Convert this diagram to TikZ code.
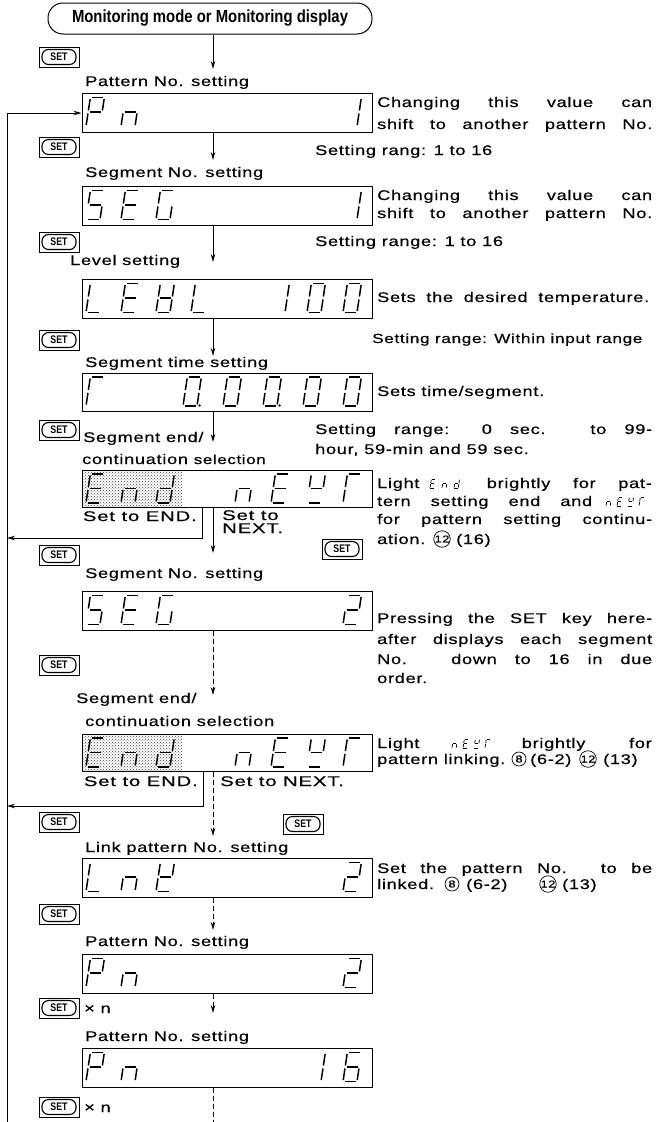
\documentclass[tikz,border=0pt]{standalone}
\usepackage{fontspec}
\setmainfont{Liberation Sans}[FakeStretch=1.3,LetterSpace=5,FakeBold=0.4]
\newfontfamily\widefont{Liberation Sans}[FakeStretch=1.45,LetterSpace=6,FakeBold=0.4]
\newfontfamily\titlefont{Liberation Sans}[FakeStretch=0.85]
\newfontfamily\keyfont{Liberation Sans}[FakeStretch=0.8]
\usetikzlibrary{arrows.meta,patterns,calc,positioning}
\newcommand\sgma{\draw[segl] (1.5,-29) -- (12.5,-29);}
\newcommand\sgmb{\draw[segl] (14,-27.5) -- (14,-16);}
\newcommand\sgmc{\draw[segl] (14,-13) -- (14,-1.5);}
\newcommand\sgmd{\draw[segl] (1.5,0) -- (12.5,0);}
\newcommand\sgme{\draw[segl] (0,-13) -- (0,-1.5);}
\newcommand\sgmf{\draw[segl] (0,-27.5) -- (0,-16);}
\newcommand\sgmg{\draw[segl] (1.5,-14.5) -- (12.5,-14.5);}
\newcommand\sgmp{\fill (16.5,-0.5) circle (1.3);}
\newcommand\sevseg[3]{\begin{scope}[shift={(#1,#2)},xslant=0.15]\foreach \s in {#3}{\csname sgm\s\endcsname}\end{scope}}
\newcommand\minseg[3]{\begin{scope}[shift={(#1,#2)},xslant=0.15,scale=0.3,segl/.style={line width=0.75pt}]\foreach \s in {#3}{\csname sgm\s\endcsname}\end{scope}}
\begin{document}
\begin{tikzpicture}[x=1pt,y=-1pt,font=\fontsize{14}{16}\selectfont,
  segl/.style={line width=1.5pt},
  disp/.style={draw,line width=1pt,minimum width=290pt,minimum height=39pt,inner sep=0pt},
  arr/.style={line width=0.9pt,-{Stealth[length=8pt,width=4.5pt]}},
  darr/.style={arr,dash pattern=on 5pt off 3pt},
  dline/.style={line width=0.9pt,dash pattern=on 5pt off 3pt},
  loopline/.style={line width=1pt},
  txt/.style={inner sep=0pt,anchor=base west},
  txtr/.style={inner sep=0pt,anchor=base east},
  wtxt/.style={txt,font=\widefont\fontsize{14}{16}\selectfont},
  wtxtr/.style={txtr,font=\widefont\fontsize{14}{16}\selectfont},
  circnum/.style={draw,circle,line width=0.7pt,inner sep=0pt,minimum size=14pt,font=\fontsize{10}{10}\selectfont},
  setkey/.style={draw,line width=0.9pt,minimum width=40pt,minimum height=20pt,inner sep=0pt,
    font=\keyfont\bfseries\fontsize{11}{11}\selectfont,
    path picture={\draw[line width=1.1pt,rounded corners=6.5pt]
      ($(path picture bounding box.south west)+(3pt,2.5pt)$) rectangle
      ($(path picture bounding box.north east)+(-3pt,-2.5pt)$);}}]
\fill[white] (0,0) rectangle (656,1122);
\useasboundingbox (0,0) rectangle (656,1122);

% ---------- top box
\node[draw,line width=1pt,rounded corners=15pt,minimum width=324pt,minimum height=31pt,inner sep=0pt,
  font=\titlefont\bfseries\fontsize{17.5}{19}\selectfont] (top) at (210,18.5) {Monitoring mode or Monitoring display};

% ---------- SET keys
\node[setkey] (k1) at (59,57) {SET};
\node[setkey] (k2) at (59,147) {SET};
\node[setkey] (k3) at (59,242) {SET};
\node[setkey] (k4) at (59,340) {SET};
\node[setkey] (k5) at (59,430) {SET};
\node[setkey] (k6) at (59,555) {SET};
\node[setkey] (k6r) at (342,549) {SET};
\node[setkey] (k7) at (59,665) {SET};
\node[setkey] (k8) at (59,822) {SET};
\node[setkey] (k8r) at (303,824) {SET};
\node[setkey] (k9) at (59,914) {SET};
\node[setkey] (k10) at (59,1008) {SET};
\node[setkey] (k11) at (59,1107) {SET};
\node[txt] (xn1) at (84,1013) {× n};
\node[txt] (xn2) at (84,1112) {× n};

% ---------- dotted areas
\fill[pattern=crosshatch dots,pattern color=black!75] (82,470) rectangle (182,507);
\fill[pattern=crosshatch dots,pattern color=black!75] (82,734) rectangle (182,771);

% ---------- displays
\node[disp] (d1) at (227,112.5) {};
\node[disp] (d2) at (227,205.5) {};
\node[disp] (d3) at (227,298.5) {};
\node[disp,minimum height=38pt] (d4) at (227,392) {};
\node[disp,minimum height=37pt] (d5) at (227,488.5) {};
\node[disp] (d6) at (227,610.5) {};
\node[disp,minimum height=37pt] (d7) at (227,752.5) {};
\node[disp] (d8) at (227,877.5) {};
\node[disp] (d9) at (227,973.5) {};
\node[disp] (d10) at (227,1067.5) {};

% ---------- glyphs
% Pn 1
\sevseg{86}{126.5}{a,b,e,f,g}\sevseg{121}{126.5}{c,e,g}\sevseg{343}{126.5}{b,c}
% SEG 1
\sevseg{86}{219.5}{a,f,g,c,d}\sevseg{121}{219.5}{a,f,g,e,d}\sevseg{156}{219.5}{a,f,e,d,c}\sevseg{343}{219.5}{b,c}
% LEVL 100
\sevseg{86}{312.5}{f,e,d}\sevseg{121}{312.5}{a,f,g,e,d}\sevseg{156}{312.5}{b,c,d,e,f,g}\sevseg{191}{312.5}{f,e,d}
\sevseg{271}{312.5}{b,c}\sevseg{307}{312.5}{a,b,c,d,e,f}\sevseg{343}{312.5}{a,b,c,d,e,f}
% r 0.00.00
\sevseg{86}{406}{a,e,f}
\sevseg{183}{406}{a,b,c,d,e,f,p}\sevseg{223}{406}{a,b,c,d,e,f}\sevseg{263}{406}{a,b,c,d,e,f,p}
\sevseg{303}{406}{a,b,c,d,e,f}\sevseg{343}{406}{a,b,c,d,e,f}
% End nExt (1)
\sevseg{86}{503}{a,d,e,f,g}\sevseg{121}{503}{c,e,g}\sevseg{156}{503}{b,c,d,e,g}
\sevseg{235}{503}{c,e,g}\sevseg{271}{503}{a,d,e,f,g}\sevseg{307}{503}{b,d,f,g}\sevseg{343}{503}{a,e,f}
% SEG 2
\sevseg{86}{624.5}{a,f,g,c,d}\sevseg{121}{624.5}{a,f,g,e,d}\sevseg{156}{624.5}{a,f,e,d,c}\sevseg{343}{624.5}{a,b,g,e,d}
% End nExt (2)
\sevseg{86}{767}{a,d,e,f,g}\sevseg{121}{767}{c,e,g}\sevseg{156}{767}{b,c,d,e,g}
\sevseg{235}{767}{c,e,g}\sevseg{271}{767}{a,d,e,f,g}\sevseg{307}{767}{b,d,f,g}\sevseg{343}{767}{a,e,f}
% LnK 2
\sevseg{86}{891.5}{f,e,d}\sevseg{121}{891.5}{c,e,g}\sevseg{156}{891.5}{b,d,e,f,g}\sevseg{343}{891.5}{a,b,g,e,d}
% Pn 2
\sevseg{86}{987.5}{a,b,e,f,g}\sevseg{121}{987.5}{c,e,g}\sevseg{343}{987.5}{a,b,g,e,d}
% Pn 16
\sevseg{86}{1081.5}{a,b,e,f,g}\sevseg{121}{1081.5}{c,e,g}\sevseg{307}{1081.5}{b,c}\sevseg{343}{1081.5}{a,c,d,e,f,g}

% ---------- left labels
\node[txt] (l1) at (85,86) {Pattern No. setting};
\node[txt] (l2) at (85,177) {Segment No. setting};
\node[txt] (l3) at (70,265) {Level setting};
\node[txt] (l4) at (85,367) {Segment time setting};
\node[txt] (l5) at (83,442) {Segment end/};
\node[txt] (l6) at (82,464) {continuation {\fontsize{13}{15}\selectfont selection}};
\node[txt] (l7) at (85,578) {Segment No. setting};
\node[txt] (l8) at (76,703) {Segment end/};
\node[txt] (l9) at (85,726) {continuation selection};
\node[txt] (l10) at (85,852) {Link pattern No. setting};
\node[txt] (l11) at (85,946) {Pattern No. setting};
\node[txt] (l12) at (85,1041) {Pattern No. setting};
\node[wtxtr] (b1) at (197,521) {Set to END.};
\node[wtxt] (b2) at (222,520) {Set to};
\node[wtxt] (b3) at (222,533) {NEXT.};
\node[wtxtr] (b4) at (198,786) {Set to END.};
\node[wtxt] (b5) at (220,786) {Set to NEXT.};

% ---------- right texts
\node[txt] (r1a) at (377,107) {\makebox[275pt][s]{Changing this value can}};
\node[txt] (r1b) at (377,129) {\makebox[275pt][s]{shift to another pattern No.}};
\node[txt] (r1c) at (315,155) {Setting rang: 1 to 16};
\node[txt] (r2a) at (377,200) {\makebox[275pt][s]{Changing this value can}};
\node[txt] (r2b) at (377,218) {\makebox[275pt][s]{shift to another pattern No.}};
\node[txt] (r2c) at (315,246) {Setting range: 1 to 16};
\node[txt] (r3a) at (377,302) {\makebox[272pt][s]{Sets the desired temperature.}};
\node[txt,font=\fontsize{13.2}{15}\selectfont] (r3b) at (372,343) {Setting range: Within input range};
\node[txt] (r4a) at (377,396) {Sets time/segment.};
\node[txt] (r4b) at (315,434) {\makebox[337pt][s]{Setting range: 0 sec. to 99-}};
\node[txt] (r4c) at (315,454) {hour, 59-min and 59 sec.};
\node[txt] (r5a) at (377,488) {Light};
\minseg{430}{488}{a,d,e,f,g}\minseg{442}{488}{c,e,g}\minseg{454}{488}{b,c,d,e,g}
\node[txtr] (r5b) at (652,488) {\makebox[165pt][s]{brightly for pat-}};
\node[txt] (r5c) at (377,506) {\makebox[215pt][s]{tern setting end and}};
\minseg{606}{506}{c,e,g}\minseg{617}{506}{a,d,e,f,g}\minseg{628}{506}{b,d,f,g}\minseg{639}{506}{a,e,f}
\node[txt] (r5d) at (377,524) {\makebox[275pt][s]{for pattern setting continu-}};
\node[txt] (r5e) at (377,544) {ation.};
\node[circnum] (c1) at (442,539) {12};
\node[txt] (r5f) at (456,544) {(16)};
\node[txt] (r6a) at (377,623) {\makebox[275pt][s]{Pressing the SET key here-}};
\node[txt] (r6b) at (377,644) {\makebox[275pt][s]{after displays each segment}};
\node[txt] (r6c) at (377,664) {\makebox[275pt][s]{No. down to 16 in due}};
\node[txt] (r6d) at (377,683) {order.};
\node[txt] (r7a) at (377,748) {Light};
\minseg{452}{748}{c,e,g}\minseg{463}{748}{a,d,e,f,g}\minseg{474}{748}{b,d,f,g}\minseg{485}{748}{a,e,f}
\node[txtr] (r7b) at (652,748) {\makebox[130pt][s]{brightly for}};
\node[txt] (r7c) at (377,764) {pattern linking.};
\node[circnum] (c2) at (519,759) {8};
\node[txt] (r7d) at (530,764) {(6-2)};
\node[circnum] (c3) at (588,759) {12};
\node[txt] (r7e) at (603,764) {(13)};
\node[txt] (r8a) at (377,873) {\makebox[275pt][s]{Set the pattern No. to be}};
\node[txt] (r8b) at (377,889) {linked.};
\node[circnum] (c4) at (452,884) {8};
\node[txt] (r8c) at (466,889) {(6-2)};
\node[circnum] (c5) at (548,884) {12};
\node[txt] (r8d) at (562,889) {(13)};

% ---------- connectors
\coordinate (t1) at (213,69);
\coordinate (t2) at (213,160);
\coordinate (t3) at (213,262);
\coordinate (t4) at (213,356);
\coordinate (t5) at (213,442);
\coordinate (t6) at (213,553);
\coordinate (t7) at (213,695);
\coordinate (t8) at (213,836);
\coordinate (t9) at (213,930);
\coordinate (t10) at (213,1013);
\coordinate (t11) at (213,1122);
\draw[arr] (top.south -| t1) -- (t1);
\draw[arr] (d1.south -| t2) -- (t2);
\draw[arr] (d2.south -| t3) -- (t3);
\draw[arr] (d3.south -| t4) -- (t4);
\draw[arr] (d4.south -| t5) -- (t5);
\draw[arr] (d5.south -| t6) -- (t6);
\draw[darr] (d6.south -| t7) -- (t7);
\draw[darr] (d7.south -| t8) -- (t8);
\draw[darr] (d8.south -| t9) -- (t9);
\draw[darr] (d9.south -| t10) -- (t10);
\draw[dline] (d10.south -| t11) -- (t11);

% loop line
\coordinate (L0) at (7,113);
\coordinate (Lb) at (7,1122);
\draw[loopline] (Lb) -- (L0);
\draw[arr] (L0) -- (L0 -| d1.west);
\coordinate (e1) at (202,538);
\coordinate (e2) at (203,806);
\draw[arr] (d5.south -| e1) -- (e1) -- (e1 -| L0);
\draw[arr] (d7.south -| e2) -- (e2) -- (e2 -| L0);
\end{tikzpicture}
\end{document}
